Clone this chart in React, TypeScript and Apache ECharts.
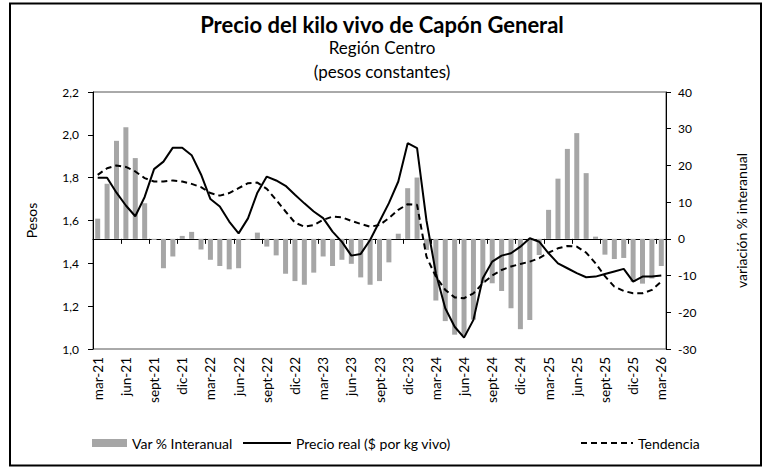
import React, { useEffect, useRef } from 'react';
import * as echarts from 'echarts';

const categories = [
  'mar-21','abr-21','may-21','jun-21','jul-21','ago-21','sept-21','oct-21','nov-21','dic-21',
  'ene-22','feb-22','mar-22','abr-22','may-22','jun-22','jul-22','ago-22','sept-22','oct-22','nov-22','dic-22',
  'ene-23','feb-23','mar-23','abr-23','may-23','jun-23','jul-23','ago-23','sept-23','oct-23','nov-23','dic-23',
  'ene-24','feb-24','mar-24','abr-24','may-24','jun-24','jul-24','ago-24','sept-24','oct-24','nov-24','dic-24',
  'ene-25','feb-25','mar-25','abr-25','may-25','jun-25','jul-25','ago-25','sept-25','oct-25','nov-25','dic-25',
  'ene-26','feb-26','mar-26'
];

const varInteranual = [
  5.5, 15.0, 26.7, 30.4, 22.0, 9.7, -0.3, -8.0, -4.8, 0.8,
  1.9, -2.9, -5.7, -7.4, -8.3, -8.0, -0.3, 1.7, -2.1, -4.5, -9.5, -11.5,
  -12.5, -9.2, -4.8, -7.4, -5.7, -6.8, -10.5, -12.5, -11.5, -6.4, 1.4, 13.8,
  16.7, -3.0, -16.8, -22.4, -26.1, -26.3, -22.0, -12.0, -12.1, -14.2, -18.9, -24.6,
  -22.1, -4.4, 7.9, 16.4, 24.5, 28.8, 17.9, 0.6, -4.3, -5.5, -5.2, -11.7,
  -12.2, -10.8, -7.4
];

const precioReal = [
  1.80, 1.80, 1.73, 1.67, 1.62, 1.71, 1.84, 1.875, 1.94, 1.94,
  1.905, 1.815, 1.70, 1.665, 1.595, 1.54, 1.61, 1.73, 1.805, 1.787, 1.762, 1.72,
  1.68, 1.642, 1.611, 1.548, 1.50, 1.436, 1.444, 1.509, 1.595, 1.681, 1.782, 1.961,
  1.938, 1.60, 1.354, 1.19, 1.104, 1.053, 1.136, 1.33, 1.408, 1.436, 1.447, 1.478,
  1.517, 1.501, 1.447, 1.40, 1.377, 1.354, 1.335, 1.338, 1.35, 1.362, 1.374, 1.315,
  1.338, 1.338, 1.343
];

const tendencia = [
  1.813, 1.844, 1.857, 1.85, 1.829, 1.798, 1.782, 1.782, 1.787, 1.782,
  1.771, 1.756, 1.728, 1.716, 1.728, 1.751, 1.774, 1.777, 1.748, 1.696, 1.642, 1.590,
  1.571, 1.579, 1.603, 1.618, 1.615, 1.598, 1.584, 1.571, 1.579, 1.611, 1.650, 1.676,
  1.673, 1.431, 1.338, 1.276, 1.241, 1.237, 1.260, 1.307, 1.343, 1.369, 1.385, 1.397,
  1.408, 1.424, 1.450, 1.470, 1.481, 1.478, 1.450, 1.400, 1.340, 1.291, 1.271, 1.260,
  1.260, 1.276, 1.315
];

const FONT = 'Lato';

export default function App() {
  const ref = useRef<HTMLDivElement>(null);
  useEffect(() => {
    if (!ref.current) return;
    const chart = echarts.init(ref.current, undefined, { renderer: 'svg' });
    const legendText = { fontSize: 14, fontFamily: FONT, color: '#000' };
    const option: any = {
      animation: false,
      backgroundColor: '#ffffff',
      textStyle: { fontFamily: FONT, color: '#000' },
      title: [
        { text: 'Precio del kilo vivo de Capón General', left: 'center', top: 13, padding: 0,
          textStyle: { fontSize: 22, fontWeight: 'bold', color: '#000', fontFamily: FONT } },
        { text: 'Región Centro', left: 'center', top: 39, padding: 0,
          textStyle: { fontSize: 17, fontWeight: 'normal', color: '#000', fontFamily: FONT } },
        { text: '(pesos constantes)', left: 'center', top: 63, padding: 0,
          textStyle: { fontSize: 17, fontWeight: 'normal', color: '#000', fontFamily: FONT } },
      ],
      graphic: [
        { type: 'rect', shape: { x: 10, y: 3.5, width: 751, height: 462 },
          style: { fill: 'none', stroke: '#000', lineWidth: 2 }, silent: true },
      ],
      grid: { left: 93, right: 98, top: 92, bottom: 120, show: true, borderColor: '#555', borderWidth: 1, containLabel: false },
      legend: [
        { data: ['Var % Interanual'], left: 92, top: 436, padding: 0, itemWidth: 35, itemHeight: 8, icon: 'rect',
          textStyle: legendText },
        { data: ['Precio real ($ por kg vivo)'], left: 242, top: 436, padding: 0, itemWidth: 48, itemHeight: 8,
          itemStyle: { opacity: 0 }, textStyle: legendText },
        { data: ['Tendencia'], left: 580, top: 436, padding: 0, itemWidth: 52, itemHeight: 8,
          itemStyle: { opacity: 0 }, textStyle: legendText },
      ],
      xAxis: {
        type: 'category', data: categories, boundaryGap: true,
        axisLine: { lineStyle: { color: '#000', width: 1 } },
        axisTick: { show: true, interval: 2, length: 5, lineStyle: { color: '#000' } },
        axisLabel: { interval: 2, rotate: 90, fontSize: 13.5, color: '#000', fontFamily: FONT, margin: 8 },
        splitLine: { show: false },
      },
      yAxis: [
        {
          type: 'value', min: 1.0, max: 2.2, interval: 0.2, position: 'left',
          name: 'Pesos', nameLocation: 'middle', nameGap: 55, nameRotate: 90,
          nameTextStyle: { fontSize: 14, color: '#000', fontFamily: FONT },
          axisLine: { show: true, lineStyle: { color: '#000' } },
          axisTick: { show: true, length: 5, lineStyle: { color: '#000' } },
          splitLine: { show: false },
          axisLabel: { formatter: (v: number) => v.toFixed(1).replace('.', ','), fontSize: 12, color: '#000', fontFamily: FONT, margin: 14 },
        },
        {
          type: 'value', min: -30, max: 40, interval: 10, position: 'right',
          name: 'variación % interanual', nameLocation: 'middle', nameGap: 68, nameRotate: 90,
          nameTextStyle: { fontSize: 14, color: '#000', fontFamily: FONT },
          axisLine: { show: true, lineStyle: { color: '#000' } },
          axisTick: { show: true, length: 5, lineStyle: { color: '#000' } },
          splitLine: { show: false },
          axisLabel: { fontSize: 12, color: '#000', fontFamily: FONT, margin: 12 },
        },
      ],
      series: [
        { name: 'Var % Interanual', type: 'bar', yAxisIndex: 1, data: varInteranual, barWidth: 5,
          itemStyle: { color: '#a6a6a6' } },
        { name: 'Precio real ($ por kg vivo)', type: 'line', yAxisIndex: 0, data: precioReal,
          symbol: 'none', showSymbol: false, lineStyle: { color: '#000', width: 2 }, itemStyle: { color: '#000' } },
        { name: 'Tendencia', type: 'line', yAxisIndex: 0, data: tendencia,
          symbol: 'none', showSymbol: false, lineStyle: { color: '#000', width: 2, type: [6, 4] }, itemStyle: { color: '#000' } },
      ],
    };
    chart.setOption(option);
    return () => chart.dispose();
  }, []);
  return <div ref={ref} style={{ position: 'fixed', left: 0, top: 0, width: 764, height: 469 }} />;
}
